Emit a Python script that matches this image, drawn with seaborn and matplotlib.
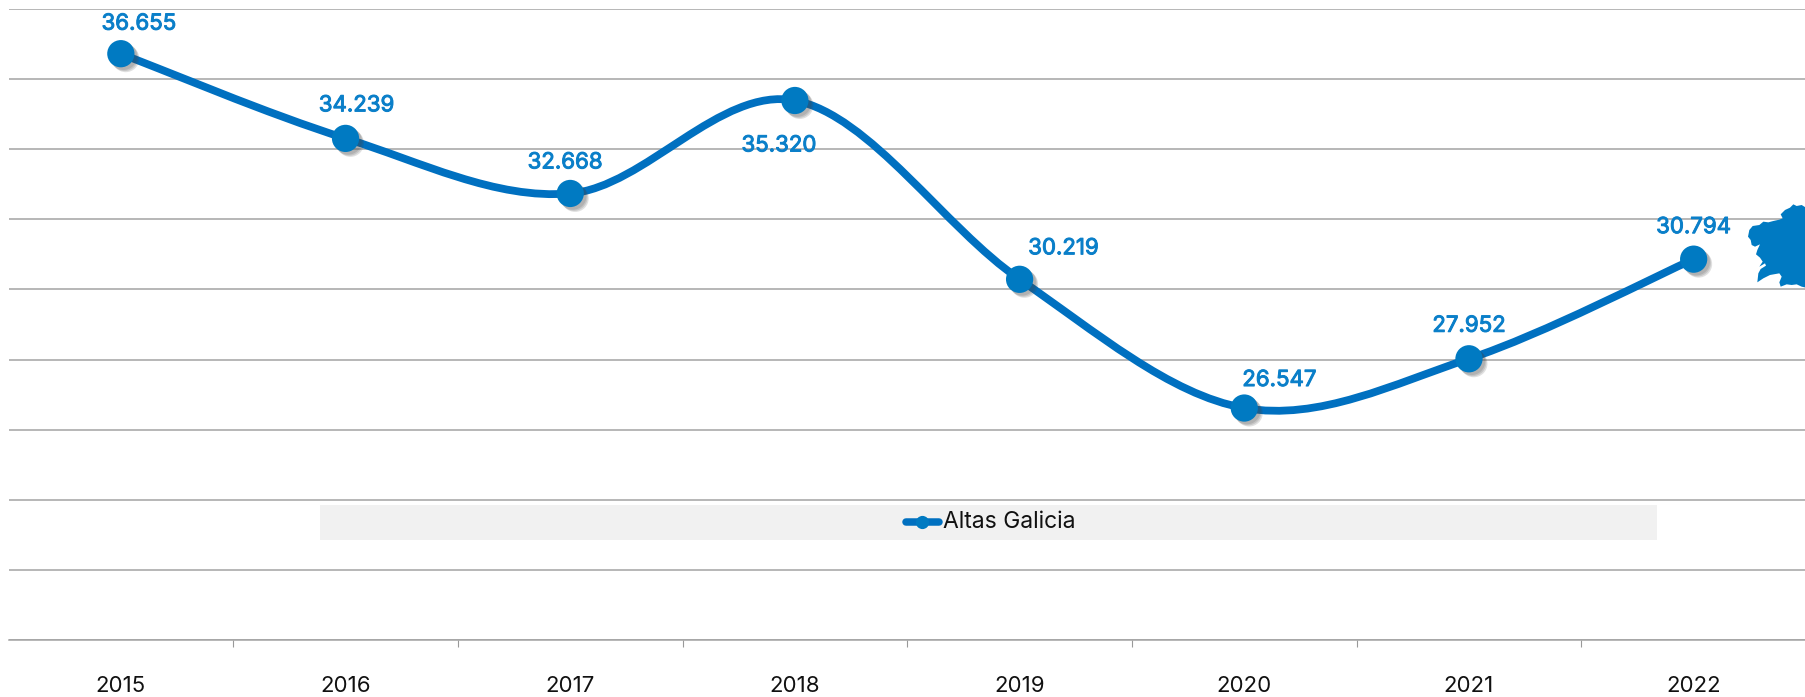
import matplotlib
matplotlib.use("Agg")
import matplotlib.pyplot as plt
import matplotlib.patheffects as pe
from matplotlib.path import Path
from matplotlib.patches import PathPatch, Polygon, Rectangle
from matplotlib.lines import Line2D
import pandas as pd
import seaborn as sns

years = ["2015", "2016", "2017", "2018", "2019", "2020", "2021", "2022"]
altas = [36655, 34239, 32668, 35320, 30219, 26547, 27952, 30794]
labels = ["36.655", "34.239", "32.668", "35.320", "30.219", "26.547", "27.952", "30.794"]
# label offset from the point, in pixels
label_dx = [18, 11, -5, -16, 44, 35, 0, 0]
label_dy = [30, 33, 31, -45, 31, 28, 33, 32]

# outline of the map at the right edge, traced on a 3x crop starting at (1740, 195)
galicia_crop = [(198, 38), (185, 30), (170, 33), (160, 28), (150, 38), (135, 45), (122, 58), (128, 70), (118, 74),
                (100, 78), (85, 82), (70, 80), (58, 90), (38, 93), (28, 105), (24, 125), (32, 135), (35, 150),
                (45, 155), (60, 148), (52, 165), (48, 178), (60, 188), (68, 200), (58, 215), (75, 205), (78, 212),
                (62, 222), (55, 235), (52, 262), (70, 250), (90, 240), (118, 235), (125, 245), (118, 262),
                (122, 275), (140, 268), (155, 270), (170, 268), (185, 275), (198, 278)]

BLUE = "#0070c0"
DOT = "#007ac2"
LABEL = "#0a7fc9"
GRID = "#a3a3a3"
W, H = 1806, 697
Y_BASE = 19930

sns.set_theme(style="white")
plt.rcParams["font.family"] = ["Inter", "DejaVu Sans"]

fig = plt.figure(figsize=(W / 100, H / 100), dpi=100)
ax = fig.add_axes([8.5 / W, 1 - 640 / H, (W + 1.5 - 8.5) / W, (640 - 9) / H])
fig.patches.append(Rectangle((320 / W, 1 - 540 / H), (1657 - 320) / W, 35 / H, transform=fig.transFigure,
                             facecolor="#f1f1f1", edgecolor="none", zorder=0))
ax.patch.set_alpha(0)

df = pd.DataFrame({"year": years, "altas": altas})

# smooth line through the points, same idea as the spreadsheet "smoothed line"
xs = list(range(len(altas)))
verts = [(xs[0], altas[0])]
codes = [Path.MOVETO]
for i in range(len(altas) - 1):
    a = max(i - 1, 0)
    b = min(i + 2, len(altas) - 1)
    verts += [(xs[i] + (xs[i + 1] - xs[a]) / 6, altas[i] + (altas[i + 1] - altas[a]) / 6),
              (xs[i + 1] - (xs[b] - xs[i]) / 6, altas[i + 1] - (altas[b] - altas[i]) / 6),
              (xs[i + 1], altas[i + 1])]
    codes += [Path.CURVE4] * 3
ax.add_patch(PathPatch(Path(verts, codes), facecolor="none", edgecolor=BLUE, lw=5.6, zorder=3, capstyle="round"))

shadow = [pe.SimplePatchShadow(offset=(o, -o), shadow_rgbFace="#444444", alpha=0.16) for o in (3.5, 2.7, 1.9)]
sns.scatterplot(data=df, x="year", y="altas", color=DOT, s=385, linewidth=0, zorder=4, ax=ax, legend=False,
                path_effects=shadow + [pe.Normal()])

# Inter only has the regular weight here, a thin stroke gets it closer to the medium look
heavier = [pe.withStroke(linewidth=0.7, foreground=LABEL)]
for i, lab in enumerate(labels):
    ax.annotate(lab, (i, altas[i]), xytext=(label_dx[i] * 0.72, label_dy[i] * 0.72), textcoords="offset points",
                ha="center", va="center", color=LABEL, fontsize=16, zorder=5, path_effects=heavier)

ax.set_xlim(-0.5, 7.5 + 1.5 / 225)
ax.set_ylim(Y_BASE, Y_BASE + 18000)
ax.set_yticks([Y_BASE + 2000 * k for k in range(10)])
ax.set_xticks(xs)
ax.set_xticklabels(years, fontsize=16, color="#111111")
ax.set_xticks([i + 0.5 for i in xs[:-1]], minor=True)
ax.tick_params(axis="x", which="major", length=0, pad=26)
ax.tick_params(axis="x", which="minor", length=5, width=0.8, color="#999999", bottom=True)
ax.tick_params(axis="y", length=0, labelleft=False)
ax.set_xlabel("")
ax.set_ylabel("")
ax.grid(axis="y", color=GRID, lw=1.1)
ax.set_axisbelow(True)
for s in ["top", "left", "right"]:
    ax.spines[s].set_visible(False)
ax.spines["bottom"].set_color(GRID)
ax.spines["bottom"].set_linewidth(1.1)

# legend by hand so it can sit in the grey band
fig.add_artist(Line2D([906 / W, 939 / W], [1 - 522 / H] * 2, color=BLUE, lw=5.4, solid_capstyle="round"))
fig.add_artist(Line2D([922 / W], [1 - 522 / H], color=DOT, marker="o", markersize=9.5, markeredgewidth=0))
fig.text(943 / W, 1 - 522 / H, "Altas Galicia", ha="left", va="center", fontsize=16.5, color="#111111")

fig.patches.append(Polygon([((1740 + x / 3) / W, 1 - (195 + y / 3) / H) for x, y in galicia_crop], closed=True,
                           transform=fig.transFigure, facecolor=DOT, edgecolor="none", zorder=1))

fig.savefig("out.png", dpi=100)
